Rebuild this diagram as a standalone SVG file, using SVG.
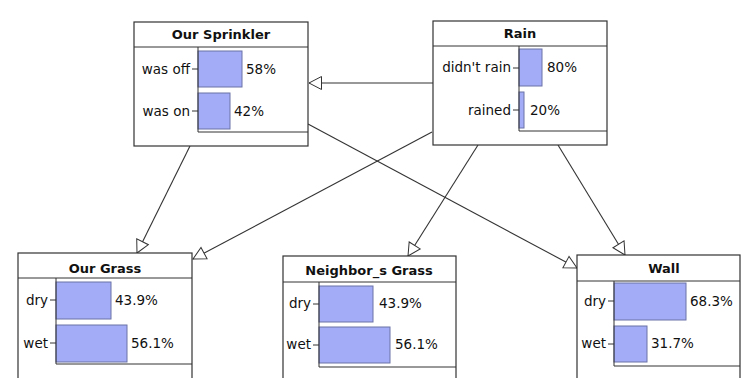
<svg xmlns="http://www.w3.org/2000/svg" width="742" height="378" viewBox="0 0 742 378">
<defs>
<marker id="tri" markerUnits="userSpaceOnUse" markerWidth="16" markerHeight="16" viewBox="-14 -8 16 16" refX="0" refY="0" orient="auto">
<path d="M0,0 L-12.5,-6.5 L-12.5,6.5 Z" fill="#fff" stroke="#333" stroke-width="1"/>
</marker>
</defs>
<style>
.box{fill:#fff;stroke:#333;stroke-width:1.2}
.div{stroke:#333;stroke-width:1}
.axis{stroke:#333;stroke-width:1;fill:none}
.bar{fill:#a3acf7;stroke:#6b73a6;stroke-width:1}
.title{font-family:"DejaVu Sans",sans-serif;font-size:13px;font-weight:bold;fill:#111;text-anchor:middle}
.lbl{font-family:"DejaVu Sans",sans-serif;font-size:13.5px;fill:#111;text-anchor:end}
.pct{font-family:"DejaVu Sans",sans-serif;font-size:13.5px;fill:#111}
.edge{stroke:#333;stroke-width:1.1;fill:none}
</style>
<rect width="742" height="378" fill="#fff"/>
<g id="connectors">
<line class="edge" x1="433" y1="83" x2="309" y2="83" marker-end="url(#tri)"/>
<line class="edge" x1="432" y1="132" x2="193" y2="259" marker-end="url(#tri)"/>
<line class="edge" x1="190" y1="146" x2="137" y2="253" marker-end="url(#tri)"/>
<line class="edge" x1="308" y1="124" x2="577" y2="268" marker-end="url(#tri)"/>
<line class="edge" x1="478" y1="145" x2="408" y2="256" marker-end="url(#tri)"/>
<line class="edge" x1="558" y1="145" x2="625" y2="255" marker-end="url(#tri)"/>
</g>
<g id="our-sprinkler">
<rect class="box" x="134" y="22" width="174" height="124"/>
<line class="div" x1="134" y1="47" x2="308" y2="47"/>
<text class="title" x="221" y="39">Our Sprinkler</text>
<rect class="bar" x="198" y="51" width="44" height="36"/>
<rect class="bar" x="198" y="93" width="32" height="36"/>
<path class="axis" d="M198,47 V132 H308 M192,69 H198 M192,111 H198"/>
<text class="lbl" x="190" y="74">was off</text>
<text class="lbl" x="190" y="116">was on</text>
<text class="pct" x="246" y="74">58%</text>
<text class="pct" x="234" y="116">42%</text>
</g>
<g id="rain">
<rect class="box" x="433" y="21" width="174" height="124"/>
<line class="div" x1="433" y1="46" x2="607" y2="46"/>
<text class="title" x="520" y="38">Rain</text>
<rect class="bar" x="519" y="49" width="23" height="37"/>
<rect class="bar" x="519" y="92" width="5" height="36"/>
<path class="axis" d="M519,46 V131 H607 M513,68 H519 M513,110 H519"/>
<text class="lbl" x="511" y="72">didn't rain</text>
<text class="lbl" x="511" y="115">rained</text>
<text class="pct" x="547" y="72">80%</text>
<text class="pct" x="530" y="115">20%</text>
</g>
<g id="our-grass">
<rect class="box" x="18" y="253" width="174" height="135"/>
<line class="div" x1="18" y1="278" x2="192" y2="278"/>
<text class="title" x="105" y="273">Our Grass</text>
<rect class="bar" x="56" y="282" width="55" height="37"/>
<rect class="bar" x="56" y="325" width="71" height="37"/>
<path class="axis" d="M56,278 V364 H192 M50,300 H56 M50,343 H56"/>
<text class="lbl" x="48" y="305">dry</text>
<text class="lbl" x="48" y="348">wet</text>
<text class="pct" x="115" y="305">43.9%</text>
<text class="pct" x="131" y="348">56.1%</text>
</g>
<g id="neighbors-grass">
<rect class="box" x="283" y="256" width="173" height="135"/>
<line class="div" x1="283" y1="282" x2="456" y2="282"/>
<text class="title" x="369" y="275">Neighbor_s Grass</text>
<rect class="bar" x="319" y="286" width="54" height="36"/>
<rect class="bar" x="319" y="327" width="71" height="36"/>
<path class="axis" d="M319,282 V367 H456 M313,304 H319 M313,345 H319"/>
<text class="lbl" x="311" y="308">dry</text>
<text class="lbl" x="311" y="349">wet</text>
<text class="pct" x="379" y="308">43.9%</text>
<text class="pct" x="395" y="349">56.1%</text>
</g>
<g id="wall">
<rect class="box" x="577" y="255" width="163" height="135"/>
<line class="div" x1="577" y1="281" x2="740" y2="281"/>
<text class="title" x="664" y="273">Wall</text>
<rect class="bar" x="614" y="283" width="72" height="37"/>
<rect class="bar" x="614" y="326" width="33" height="36"/>
<path class="axis" d="M614,281 V366 H740 M608,301 H614 M608,344 H614"/>
<text class="lbl" x="606" y="306">dry</text>
<text class="lbl" x="606" y="348">wet</text>
<text class="pct" x="690" y="306">68.3%</text>
<text class="pct" x="651" y="348">31.7%</text>
</g>
</svg>
